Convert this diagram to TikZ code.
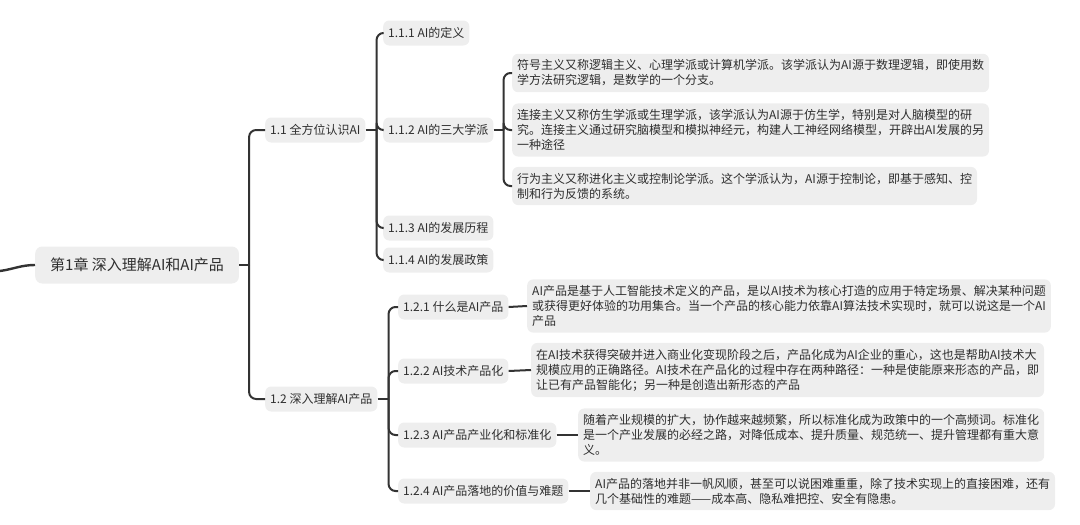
\documentclass[tikz,border=0pt]{standalone}
\usepackage{fontspec}
\setmainfont{Noto Sans CJK SC}
\usepackage{xcolor}
\usetikzlibrary{positioning, calc}

\definecolor{boxgray}{HTML}{EEEEEE}
\definecolor{linegray}{HTML}{333333}
\definecolor{textgray}{HTML}{2E2E2E}

\begin{document}
\begin{tikzpicture}[x=1pt, y=-1pt,
    topic/.style={rectangle, rounded corners=7pt, fill=boxgray, text=textgray, anchor=west, inner xsep=15pt, minimum height=37pt, font=\fontsize{15}{18}\selectfont},
    subtopic/.style={rectangle, rounded corners=6pt, fill=boxgray, text=textgray, anchor=west, inner xsep=5pt, minimum height=25pt, font=\fontsize{12}{15}\selectfont},
    note/.style={subtopic, align=left, inner ysep=6pt},
    branch/.style={draw=linegray, line width=2pt, rounded corners=7pt}
]
\useasboundingbox (0,0) rectangle (1080,525);

% chapter and sections
\node[topic] (ch) at (35,265) {第1章 深入理解AI和AI产品};
\node[subtopic] (s11) at (265,130) {1.1 全方位认识AI};
\node[subtopic] (s12) at (265,399) {1.2 深入理解AI产品};

\node[subtopic] (s111) at (383,33) {1.1.1 AI的定义};
\node[subtopic] (s112) at (383,130) {1.1.2 AI的三大学派};
\node[subtopic] (s113) at (383,228) {1.1.3 AI的发展历程};
\node[subtopic] (s114) at (383,260) {1.1.4 AI的发展政策};

\node[note] (n1) at (512,73) {符号主义又称逻辑主义、心理学派或计算机学派。该学派认为AI源于数理逻辑，即使用数\\学方法研究逻辑，是数学的一个分支。};
\node[note] (n2) at (512,130) {连接主义又称仿生学派或生理学派，该学派认为AI源于仿生学，特别是对人脑模型的研\\究。连接主义通过研究脑模型和模拟神经元，构建人工神经网络模型，开辟出AI发展的另\\一种途径};
\node[note] (n3) at (512,186) {行为主义又称进化主义或控制论学派。这个学派认为，AI源于控制论，即基于感知、控\\制和行为反馈的系统。};

\node[subtopic] (s121) at (398,307) {1.2.1 什么是AI产品};
\node[subtopic] (s122) at (398,371) {1.2.2 AI技术产品化};
\node[subtopic] (s123) at (398,435) {1.2.3 AI产品产业化和标准化};
\node[subtopic] (s124) at (398,491) {1.2.4 AI产品落地的价值与难题};

\node[note] (d1) at (527,306) {AI产品是基于人工智能技术定义的产品，是以AI技术为核心打造的应用于特定场景、解决某种问题\\或获得更好体验的功用集合。当一个产品的核心能力依靠AI算法技术实现时，就可以说这是一个AI\\产品};
\node[note] (d2) at (531,370) {在AI技术获得突破并进入商业化变现阶段之后，产品化成为AI企业的重心，这也是帮助AI技术大\\规模应用的正确路径。AI技术在产品化的过程中存在两种路径：一种是使能原来形态的产品，即\\让已有产品智能化；另一种是创造出新形态的产品};
\node[note] (d3) at (578,435) {随着产业规模的扩大，协作越来越频繁，所以标准化成为政策中的一个高频词。标准化\\是一个产业发展的必经之路，对降低成本、提升质量、规范统一、提升管理都有重大意\\义。};
\node[note] (d4) at (590,491) {AI产品的落地并非一帆风顺，甚至可以说困难重重，除了技术实现上的直接困难，还有\\几个基础性的难题——成本高、隐私难把控、安全有隐患。};

% junctions
\coordinate (root) at (0,271);
\coordinate (j0) at ($(ch.east)+(10,0)$);
\coordinate (j11) at ($(s11.east)+(11,0)$);
\coordinate (j12) at ($(s12.east)+(11,0)$);
\coordinate (j112) at ($(s112.east)+(10,0)$);

\draw[branch, line width=2.4pt] (root) to[out=8, in=180] (ch.west);
\draw[branch] (ch.east) -- (j0);
\draw[branch] (j0) |- (s11.west);
\draw[branch] (j0) |- (s12.west);

\draw[branch] (s11.east) -- (j11);
\draw[branch] (j11) |- (s111.west);
\draw[branch] (j11) |- (s112.west);
\draw[branch] (j11) |- (s113.west);
\draw[branch] (j11) |- (s114.west);

\draw[branch] (s112.east) -- (j112);
\draw[branch] (j112) |- (n1.west);
\draw[branch] (j112) |- (n2.west);
\draw[branch] (j112) |- (n3.west);

\draw[branch] (s12.east) -- (j12);
\draw[branch] (j12) |- (s121.west);
\draw[branch] (j12) |- (s122.west);
\draw[branch] (j12) |- (s123.west);
\draw[branch] (j12) |- (s124.west);

\draw[branch] (s121.east) -- (d1.west);
\draw[branch] (s122.east) -- (d2.west);
\draw[branch] (s123.east) -- (d3.west);
\draw[branch] (s124.east) -- (d4.west);

\end{tikzpicture}
\end{document}
